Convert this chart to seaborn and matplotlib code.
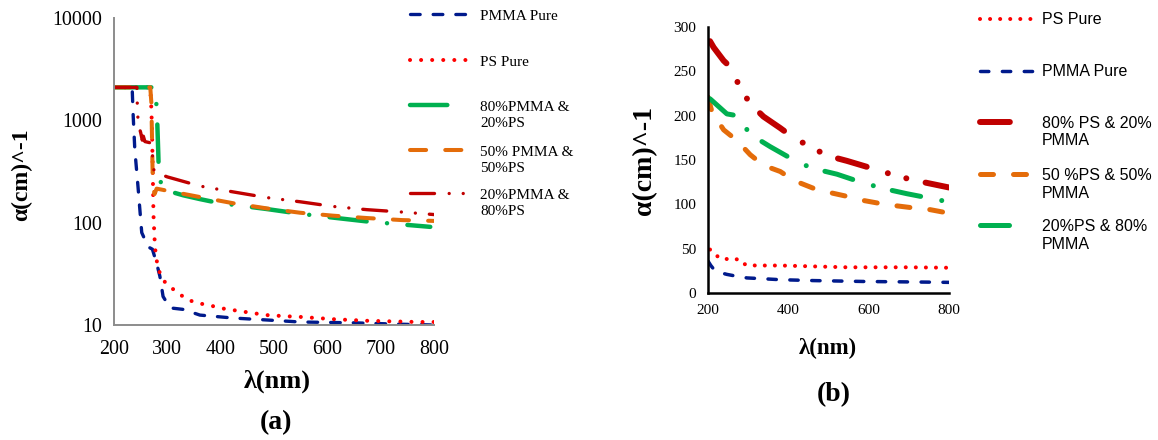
import numpy as np
import pandas as pd
import seaborn as sns
import matplotlib
matplotlib.use("Agg")
import matplotlib.pyplot as plt

# ---------------- data: panel (a) (log scale) ----------------
pmma_a_x = [200, 234, 236, 239, 245, 252, 264, 272, 280, 286, 292, 305, 330, 361, 423, 486, 549, 650, 730, 800]
pmma_a_y = [2100, 2100, 1100, 520, 225, 80, 58, 55, 40, 30, 19, 14.7, 14.2, 12.5, 11.7, 11.2, 10.7, 10.5, 10.2, 10.0]

ps_a_x = [200, 268, 270, 271, 272, 273, 274, 276, 278, 281, 286, 296, 308, 323, 339, 358, 377, 400, 423, 455,
          486, 520, 549, 580, 611, 643, 674, 705, 737, 768, 800]
ps_a_y = [2100, 2100, 1300, 900, 500, 250, 120, 70, 50, 40, 32, 26, 23, 20, 17.6, 16.3, 15.7, 14.6, 14, 13.2,
          12.5, 12.2, 12, 11.7, 11.4, 11.2, 11, 10.9, 10.8, 10.7, 10.7]

g80_a_x = [200, 277, 279, 281, 283, 284, 290, 300, 330, 361, 393, 430, 486, 550, 611, 680, 740, 793]
g80_a_y = [2100, 2100, 1600, 1000, 480, 316, 215, 205, 185, 170, 157, 148, 136, 122, 112, 102, 96, 91]

o50_a_x = [200, 268, 270, 271, 272, 273, 276, 280, 290, 300, 361, 423, 486, 549, 611, 674, 740, 800]
o50_a_y = [2100, 2100, 1500, 800, 400, 230, 190, 215, 210, 205, 178, 155, 138, 125, 117, 111, 106, 104]

r20_a_x = [200, 243, 244, 246, 250, 253, 255, 258, 270, 275, 285, 300, 361, 423, 486, 549, 611, 674, 740, 800]
r20_a_y = [2100, 2100, 1200, 900, 760, 640, 700, 620, 600, 320, 300, 280, 228, 200, 176, 160, 144, 134, 127, 120]

# ---------------- data: panel (b) (linear scale) ----------------
ps_b_x = [205, 212, 222, 230, 255, 279, 288, 293, 318, 380, 463, 546, 628, 700, 800]
ps_b_y = [49, 47, 42, 39, 38, 38, 34, 32, 31, 31, 30, 29, 29, 29, 28.5]

pmma_b_x = [200, 207, 214, 230, 247, 270, 297, 340, 380, 463, 587, 700, 800]
pmma_b_y = [36, 31, 27, 23, 21, 19, 17, 16, 15, 14, 13, 12.5, 12]

r80_b_x = [200, 205, 214, 239, 260, 276, 304, 338, 380, 413, 455, 496, 546, 620, 670, 715, 800]
r80_b_y = [283, 284, 277, 262, 253, 235, 214, 199, 186, 175, 165, 155, 149, 139, 132, 127, 119]

o50_b_x = [200, 210, 239, 272, 305, 338, 380, 413, 463, 496, 546, 579, 628, 657, 711, 753, 800]
o50_b_y = [221, 204, 184, 172, 156, 144, 137, 127, 118, 114, 109, 105, 101, 99, 96, 94, 90]

g20_b_x = [205, 210, 247, 272, 276, 279, 312, 355, 429, 475, 521, 587, 645, 695, 774, 785]
g20_b_y = [219, 217, 202, 200, 199, 193, 177, 165, 146, 139, 134, 124, 117, 112, 105, 104]

xticks_a = [200, 300, 400, 500, 600, 700, 800]
yticks_a = [10, 100, 1000, 10000]
ytick_labels_a = ["10", "100", "1000", "10000"]
xticks_b = [200, 400, 600, 800]
yticks_b = [0, 50, 100, 150, 200, 250, 300]

labels_a = ["PMMA Pure", "PS Pure", "80%PMMA &\n20%PS", "50% PMMA &\n50%PS", "20%PMMA &\n80%PS"]
labels_b = ["PS Pure", "PMMA Pure", "80% PS & 20%\nPMMA", "50 %PS & 50%\nPMMA", "20%PS & 80%\nPMMA"]

NAVY = "#001A8C"
RED = "#FF0000"
GREEN = "#00B050"
ORANGE = "#E46C0A"
DRED = "#C00000"

sns.set_style("white")
plt.rcParams["font.family"] = ["Liberation Serif", "DejaVu Serif"]
plt.rcParams["text.color"] = "black"
plt.rcParams["axes.labelcolor"] = "black"

W, H = 1158, 440
fig = plt.figure(figsize=(W / 100, H / 100), dpi=100)

def px_rect(l, t, r, b):
    return [l / W, 1 - b / H, (r - l) / W, (b - t) / H]

ax_a = fig.add_axes(px_rect(114, 18, 434, 325))
ax_b = fig.add_axes(px_rect(708, 27, 949, 293))

def draw(ax, x, y, color, lw, dashes):
    sns.lineplot(x=x, y=y, ax=ax, color=color, linewidth=lw, estimator=None, sort=False,
                 linestyle=(0, dashes), dash_capstyle="round", solid_capstyle="round")
    return ax.lines[-1]

# panel (a)
la = []
la.append(draw(ax_a, pmma_a_x, pmma_a_y, NAVY, 2.4, (2.9, 3.9)))
la.append(draw(ax_a, ps_a_x, ps_a_y, RED, 2.9, (0.01, 2.74)))
la.append(draw(ax_a, g80_a_x, g80_a_y, GREEN, 3.2, (8.4, 4.6, 0.01, 4.6)))
la.append(draw(ax_a, o50_a_x, o50_a_y, ORANGE, 2.9, (4.0, 4.75)))
la.append(draw(ax_a, r20_a_x, r20_a_y, DRED, 2.4, (7.2, 4.4, 0.01, 4.2, 0.01, 4.2)))

ax_a.set_yscale("log")
ax_a.set_xlim(200, 800)
ax_a.set_ylim(10, 10000)
ax_a.set_xticks(xticks_a)
ax_a.set_yticks(yticks_a)
ax_a.set_yticklabels(ytick_labels_a)
ax_a.yaxis.set_minor_locator(matplotlib.ticker.NullLocator())
ax_a.tick_params(axis="both", length=0, labelsize=14.4, colors="black")
ax_a.tick_params(axis="x", pad=11)
ax_a.tick_params(axis="y", pad=8.6)
for s in ["top", "right"]:
    ax_a.spines[s].set_visible(False)
for s in ["left", "bottom"]:
    ax_a.spines[s].set_color("#8C8C8C")
    ax_a.spines[s].set_linewidth(1.4)
ax_a.set_xlabel("λ(nm)", fontsize=19, fontweight="bold")
ax_a.set_ylabel("α(cm)^-1", fontsize=17, fontweight="bold")
ax_a.xaxis.label.set_va("center")
ax_a.yaxis.label.set_va("center")
ax_a.xaxis.set_label_coords(0.509, (325 - 381) / 307)
ax_a.yaxis.set_label_coords((22 - 114) / 320, 0.489)

# panel (b)
lb = []
lb.append(draw(ax_b, ps_b_x, ps_b_y, RED, 2.9, (0.01, 2.49)))
lb.append(draw(ax_b, pmma_b_x, pmma_b_y, NAVY, 2.5, (2.4, 3.9)))
lb.append(draw(ax_b, r80_b_x, r80_b_y, DRED, 4.3, (5.0, 3.7, 0.01, 3.2, 0.01, 3.3)))
lb.append(draw(ax_b, o50_b_x, o50_b_y, ORANGE, 3.6, (2.6, 4.0)))
lb.append(draw(ax_b, g20_b_x, g20_b_y, GREEN, 3.6, (5.8, 4.3, 0.01, 3.9)))

ax_b.set_xlim(200, 800)
ax_b.set_ylim(0, 300)
ax_b.set_xticks(xticks_b)
ax_b.set_yticks(yticks_b)
ax_b.tick_params(axis="both", length=0, labelsize=11, colors="black")
ax_b.tick_params(axis="x", pad=8)
ax_b.tick_params(axis="y", pad=8.6)
for s in ["top", "right"]:
    ax_b.spines[s].set_visible(False)
for s in ["left", "bottom"]:
    ax_b.spines[s].set_color("black")
    ax_b.spines[s].set_linewidth(1.8)
ax_b.set_xlabel("λ(nm)", fontsize=16.5, fontweight="bold")
ax_b.set_ylabel("α(cm)^-1", fontsize=20, fontweight="bold")
ax_b.xaxis.label.set_va("center")
ax_b.yaxis.label.set_va("center")
ax_b.xaxis.set_label_coords(0.498, (293 - 348) / 266)
ax_b.yaxis.set_label_coords((645 - 708) / 241, 0.5)

for ax in (ax_a, ax_b):
    if ax.get_legend() is not None:
        ax.get_legend().remove()
    ax.set_facecolor("white")

# legends, one entry each, placed at the reference positions
legend_entries = []

def add_entry(line, label, x_px, y_px, text_x_px, hl_px, fontsize, family, gap_px):
    fs_px = fontsize * 100 / 72
    hl = hl_px / fs_px
    pad = (text_x_px - x_px - hl_px) / fs_px
    lines = label.split("\n")
    leg = fig.legend([line], [lines[0]], loc="center left",
                     bbox_to_anchor=(x_px / W, 1 - y_px / H), bbox_transform=fig.transFigure,
                     frameon=False, borderpad=0, borderaxespad=0, handlelength=hl,
                     handletextpad=pad, prop={"family": family, "size": fontsize})
    for t in leg.get_texts():
        t.set_color("black")
    legend_entries.append((leg, lines[1:], fontsize, family, gap_px))

ya = [16, 62, 107, 152, 195]
hla = [62, 62, 42, 62, 62]
for ln, lab, y, hl in zip(la, labels_a, ya, hla):
    add_entry(ln, lab, 410, y, 480, hl, 11, ["Liberation Serif"], 3)

yb = [20, 72, 123, 175, 226]
hlb = [57, 57, 37, 57, 37]
for ln, lab, y, hl in zip(lb, labels_b, yb, hlb):
    add_entry(ln, lab, 980, y, 1042, hl, 11.5, ["Liberation Sans"], 3)

fig.canvas.draw()
renderer = fig.canvas.get_renderer()
for leg, rest, fontsize, family, gap_px in legend_entries:
    if not rest:
        continue
    bb = leg.get_texts()[0].get_window_extent(renderer)
    fig.text(bb.x0 / W, (bb.y0 - gap_px) / H, "\n".join(rest), ha="left", va="top",
             fontsize=fontsize, family=family, color="black")

fig.text(276 / W, 1 - 423 / H, "(a)", ha="center", va="center", fontsize=20, fontweight="bold")
fig.text(834 / W, 1 - 395 / H, "(b)", ha="center", va="center", fontsize=20, fontweight="bold")

fig.savefig("out.png", dpi=100, facecolor="white")
